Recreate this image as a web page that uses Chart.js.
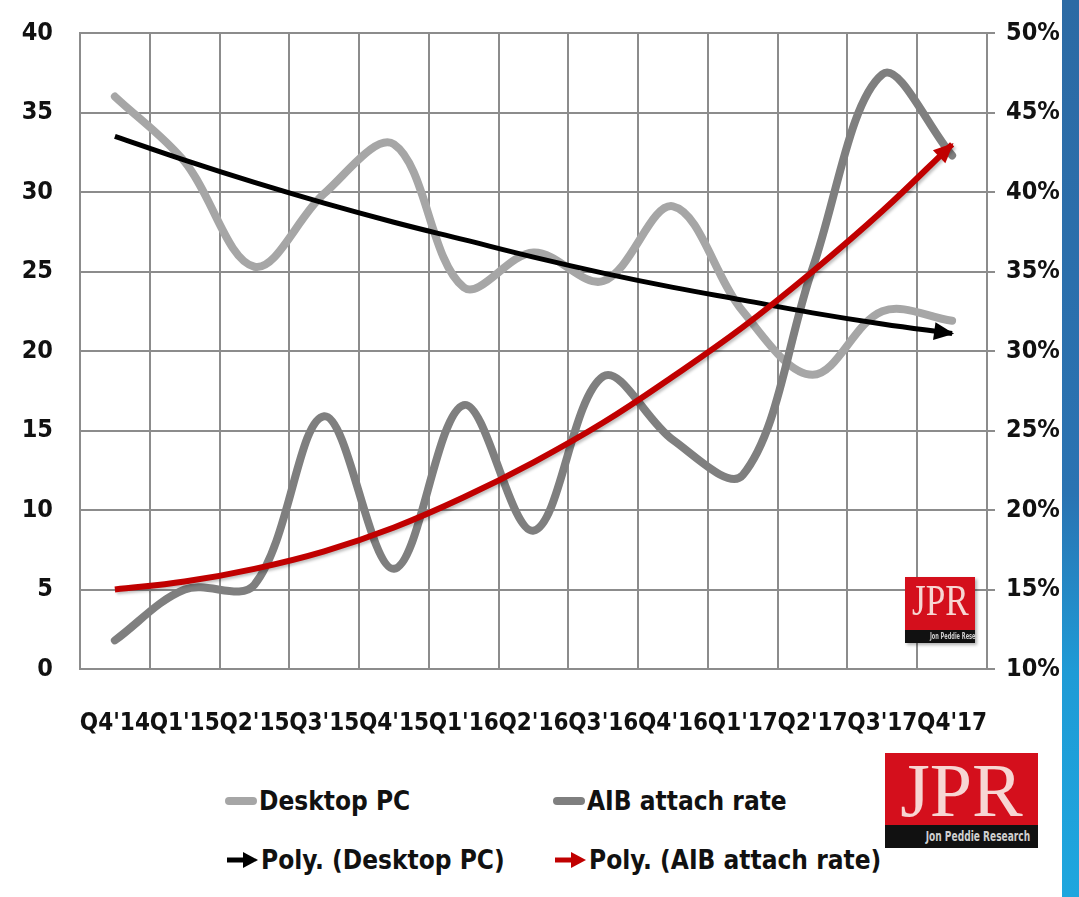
<!DOCTYPE html>
<html>
<head>
<meta charset="utf-8">
<script src="https://cdn.jsdelivr.net/npm/chart.js@4.4.1/dist/chart.umd.min.js"></script>
<style>
  body {
    margin: 0;
    width: 1079px;
    height: 897px;
    background: #fff;
    overflow: hidden;
    position: relative;
    font-family: "DejaVu Sans Condensed", "DejaVu Sans", sans-serif;
  }
  #wrap { position: absolute; left: 0; top: 0; width: 1062px; height: 760px; }
  .stripe {
    position: absolute; left: 1062px; top: 0; width: 17px; height: 897px;
    background: linear-gradient(#2c6aa4, #2a73b2 55%, #1f9bd6 75%, #1ea6de);
  }
  .legend-item {
    position: absolute; display: flex; align-items: center;
    font-size: 26px; font-weight: bold; color: #111; white-space: nowrap;
  }
  .legend-item svg { margin-right: 2px; }
  .logo { position: absolute; background: #d40f1c; overflow: hidden; }
  .logo .jpr {
    position: absolute; left: 0; right: 0; text-align: center;
    font-family: "Liberation Serif", "DejaVu Serif", serif; color: #f7d6d3;
  }
  .logo .strip {
    position: absolute; left: 0; right: 0; bottom: 0; background: #111;
    color: #cfcfcf; font-weight: bold; text-align: right; white-space: nowrap;
  }
  .logo .strip span { display: inline-block; transform-origin: right center; }
</style>
</head>
<body>
<div id="wrap"><canvas id="chart" width="1062" height="760"></canvas></div>

<!-- small JPR logo inside the plot -->
<div class="logo" style="left:905px;top:577px;width:70px;height:66px;box-shadow:2px 2px 3px rgba(0,0,0,0.3);">
  <div class="jpr" style="top:-2px;font-size:44px;transform:scaleX(0.8);">JPR</div>
  <div class="strip" style="height:13px;font-size:8px;line-height:13px;padding-right:5px;"><span style="transform:scaleX(0.7);">Jon Peddie Research</span></div>
</div>

<!-- large JPR logo -->
<div class="logo" style="left:885px;top:753px;width:153px;height:95px;">
  <div class="jpr" style="top:-6px;font-size:76px;">JPR</div>
  <div class="strip" style="height:23px;font-size:14px;line-height:23px;padding-right:10px;"><span style="transform:scaleX(0.72);">Jon Peddie Research</span></div>
</div>

<div class="stripe"></div>

<!-- legend -->
<div class="legend-item" style="left:225px;top:786px;">
  <svg width="32" height="12"><line x1="4" y1="6" x2="28" y2="6" stroke="#a6a6a6" stroke-width="8" stroke-linecap="round"/></svg>Desktop PC
</div>
<div class="legend-item" style="left:553px;top:786px;">
  <svg width="32" height="12"><line x1="4" y1="6" x2="28" y2="6" stroke="#7f7f7f" stroke-width="8" stroke-linecap="round"/></svg>AIB attach rate
</div>
<div class="legend-item" style="left:225px;top:845px;">
  <svg width="34" height="20"><line x1="2" y1="10" x2="20" y2="10" stroke="#000" stroke-width="5"/><polygon points="18,2 33,10 18,18" fill="#000"/></svg>Poly. (Desktop PC)
</div>
<div class="legend-item" style="left:553px;top:845px;">
  <svg width="34" height="20"><line x1="2" y1="10" x2="20" y2="10" stroke="#c00000" stroke-width="5"/><polygon points="18,2 33,10 18,18" fill="#c00000"/></svg>Poly. (AIB attach rate)
</div>

<script>
// categories and series
const quarters = ["Q4'14", "Q1'15", "Q2'15", "Q3'15", "Q4'15", "Q1'16", "Q2'16",
                  "Q3'16", "Q4'16", "Q1'17", "Q2'17", "Q3'17", "Q4'17"];

// left axis (units)
const desktopPc   = [36.0, 31.9, 25.3, 29.9, 33.0, 24.0, 26.2, 24.4, 29.1, 22.5, 18.5, 22.5, 21.9];
const polyDesktop = [33.5, 32.0, 30.6, 29.3, 28.1, 27.0, 25.9, 24.9, 24.0, 23.2, 22.4, 21.7, 21.1];

// right axis (percent)
const aibAttach = [11.8, 15.0, 15.3, 25.9, 16.3, 26.6, 18.7, 28.4, 24.4, 22.2, 35.2, 47.4, 42.3];
const polyAib   = [15.0, 15.5, 16.3, 17.4, 18.9, 20.8, 23.0, 25.5, 28.4, 31.5, 35.0, 38.8, 43.0];

// tick labels
const leftTicks  = [0, 5, 10, 15, 20, 25, 30, 35, 40];
const rightTicks = [10, 15, 20, 25, 30, 35, 40, 45, 50];

const FONT = "'DejaVu Sans Condensed', 'DejaVu Sans', sans-serif";
const GRID = '#8c8c8c';

// arrow heads at the end of the trend lines
const arrowHeads = {
  id: 'arrowHeads',
  afterDatasetsDraw(chart) {
    const ctx = chart.ctx;
    chart.data.datasets.forEach((ds, i) => {
      if (!ds.arrow) return;
      const pts = chart.getDatasetMeta(i).data;
      const end = pts[pts.length - 1];
      const ang = Math.atan2(end.y - end.cp1y, end.x - end.cp1x);
      const len = 18, half = 9;
      ctx.save();
      ctx.fillStyle = ds.borderColor;
      ctx.translate(end.x, end.y);
      ctx.rotate(ang);
      ctx.beginPath();
      ctx.moveTo(2, 0);
      ctx.lineTo(-len, -half);
      ctx.lineTo(-len, half);
      ctx.closePath();
      ctx.fill();
      ctx.restore();
    });
  }
};

// soft shadow under the red trend line
const lineShadow = {
  id: 'lineShadow',
  beforeDatasetDraw(chart, args) {
    if (!chart.data.datasets[args.index].shadow) return;
    const ctx = chart.ctx;
    ctx.save();
    ctx.shadowColor = 'rgba(0,0,0,0.25)';
    ctx.shadowBlur = 3;
    ctx.shadowOffsetX = 2;
    ctx.shadowOffsetY = 2;
  },
  afterDatasetDraw(chart, args) {
    if (!chart.data.datasets[args.index].shadow) return;
    chart.ctx.restore();
  }
};

// keep the plot box fixed: no extra padding from tick labels
function noPad(s) {
  s.paddingTop = 0;
  s.paddingBottom = 0;
  s.paddingLeft = 0;
  s.paddingRight = 0;
}

new Chart(document.getElementById('chart'), {
  type: 'line',
  data: {
    labels: quarters,
    datasets: [
      {
        label: 'Poly. (AIB attach rate)', data: polyAib, yAxisID: 'y1',
        borderColor: '#c00000', borderWidth: 6, tension: 0.4, order: 0,
        pointRadius: 0, arrow: true, shadow: true
      },
      {
        label: 'Poly. (Desktop PC)', data: polyDesktop, yAxisID: 'y',
        borderColor: '#000000', borderWidth: 5, tension: 0.4, order: 1,
        pointRadius: 0, arrow: true
      },
      {
        label: 'AIB attach rate', data: aibAttach, yAxisID: 'y1',
        borderColor: '#7f7f7f', borderWidth: 8, tension: 0.35, order: 2,
        pointRadius: 0, borderCapStyle: 'round'
      },
      {
        label: 'Desktop PC', data: desktopPc, yAxisID: 'y',
        borderColor: '#a6a6a6', borderWidth: 8, tension: 0.35, order: 3,
        pointRadius: 0, borderCapStyle: 'round'
      }
    ]
  },
  options: {
    responsive: false,
    animation: false,
    layout: { padding: { top: 33, left: 0, right: 0, bottom: 0 } },
    plugins: { legend: { display: false }, tooltip: { enabled: false } },
    scales: {
      x: {
        offset: true,
        grid: { offset: true, color: GRID, lineWidth: 2, drawTicks: false },
        border: { color: GRID, width: 2 },
        ticks: {
          color: '#111', padding: 40, maxRotation: 0, autoSkip: false,
          font: { family: FONT, size: 24, weight: 'bold' }
        },
        afterFit(s) { s.height = 91; noPad(s); }
      },
      y: {
        position: 'left', min: 0, max: 40,
        afterBuildTicks(s) { s.ticks = leftTicks.map(v => ({ value: v })); },
        grid: { color: GRID, lineWidth: 2, drawTicks: false },
        border: { color: GRID, width: 2 },
        ticks: { color: '#111', padding: 27, font: { family: FONT, size: 25, weight: 'bold' } },
        afterFit(s) { s.width = 80; noPad(s); }
      },
      y1: {
        position: 'right', min: 10, max: 50,
        afterBuildTicks(s) { s.ticks = rightTicks.map(v => ({ value: v })); },
        grid: { drawOnChartArea: false, drawTicks: true, tickLength: 8, color: GRID, lineWidth: 2 },
        border: { display: false },
        ticks: {
          color: '#111', padding: 11, font: { family: FONT, size: 25, weight: 'bold' },
          callback: v => v + '%'
        },
        afterFit(s) { s.width = 75; noPad(s); }
      }
    }
  },
  plugins: [arrowHeads, lineShadow]
});
</script>
</body>
</html>
